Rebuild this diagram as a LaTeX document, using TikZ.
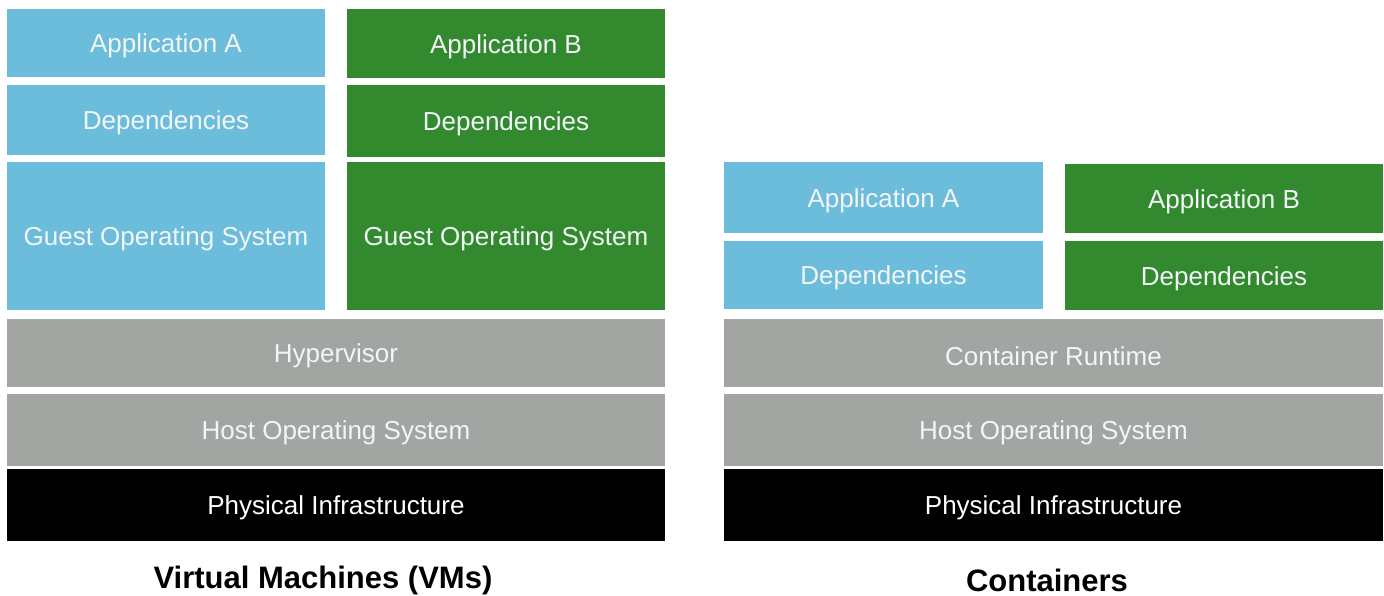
\documentclass[tikz,border=0pt]{standalone}
\usepackage{fontspec}
\setmainfont{Liberation Sans}
\definecolor{cblue}{HTML}{6CBCDC}
\definecolor{cgreen}{HTML}{338A2E}
\definecolor{cgray}{HTML}{A3A5A2}
\definecolor{ctext}{HTML}{F2F6F8}
\newcommand{\lbl}[1]{\raisebox{-3pt}[\height][\depth]{#1}}
\begin{document}
\begin{tikzpicture}[x=1pt,y=-1pt,
  blk/.style={rectangle,inner sep=0pt,outer sep=0pt,text=ctext,font=\fontsize{26}{30}\selectfont},
  bluebox/.style={blk,fill=cblue},
  greenbox/.style={blk,fill=cgreen},
  graybox/.style={blk,fill=cgray},
  blackbox/.style={blk,fill=black,text=white},
  ttl/.style={font=\fontsize{31}{36}\selectfont\bfseries,text=black}]
\useasboundingbox (0,0) rectangle (1384,596);
\fill[white] (0,0) rectangle (1384,596);
% Virtual machines
\node[bluebox,minimum width=318pt,minimum height=68pt] (appA) at (166,43) {\lbl{Application A}};
\node[bluebox,minimum width=318pt,minimum height=70pt] (depA) at (166,120) {\lbl{Dependencies}};
\node[bluebox,minimum width=318pt,minimum height=148pt] (guestA) at (166,236) {\lbl{Guest Operating System}};
\node[greenbox,minimum width=318pt,minimum height=69pt] (appB) at (506,43.5) {\lbl{Application B}};
\node[greenbox,minimum width=318pt,minimum height=72pt] (depB) at (506,121) {\lbl{Dependencies}};
\node[greenbox,minimum width=318pt,minimum height=148pt] (guestB) at (506,236) {\lbl{Guest Operating System}};
\node[graybox,minimum width=658pt,minimum height=68pt] (hyp) at (336,353) {\lbl{Hypervisor}};
\node[graybox,minimum width=658pt,minimum height=72pt] (hostL) at (336,430) {\lbl{Host Operating System}};
\node[blackbox,minimum width=658pt,minimum height=72pt] (physL) at (336,505) {\lbl{Physical Infrastructure}};
\node[ttl] (vmtitle) at (323,580) {Virtual Machines (VMs)};
% Containers
\node[bluebox,minimum width=319pt,minimum height=71pt] (cappA) at (883.5,197.5) {\lbl{Application A}};
\node[bluebox,minimum width=319pt,minimum height=68pt] (cdepA) at (883.5,275) {\lbl{Dependencies}};
\node[greenbox,minimum width=318pt,minimum height=69pt] (cappB) at (1224,198.5) {\lbl{Application B}};
\node[greenbox,minimum width=318pt,minimum height=69pt] (cdepB) at (1224,275.5) {\lbl{Dependencies}};
\node[graybox,minimum width=659pt,minimum height=68pt] (rt) at (1053.5,353) {\lbl{Container Runtime}};
\node[graybox,minimum width=659pt,minimum height=72pt] (hostR) at (1053.5,430) {\lbl{Host Operating System}};
\node[blackbox,minimum width=659pt,minimum height=72pt] (physR) at (1053.5,505) {\lbl{Physical Infrastructure}};
\node[ttl] (ctitle) at (1047,580) {Containers};
\end{tikzpicture}
\end{document}
